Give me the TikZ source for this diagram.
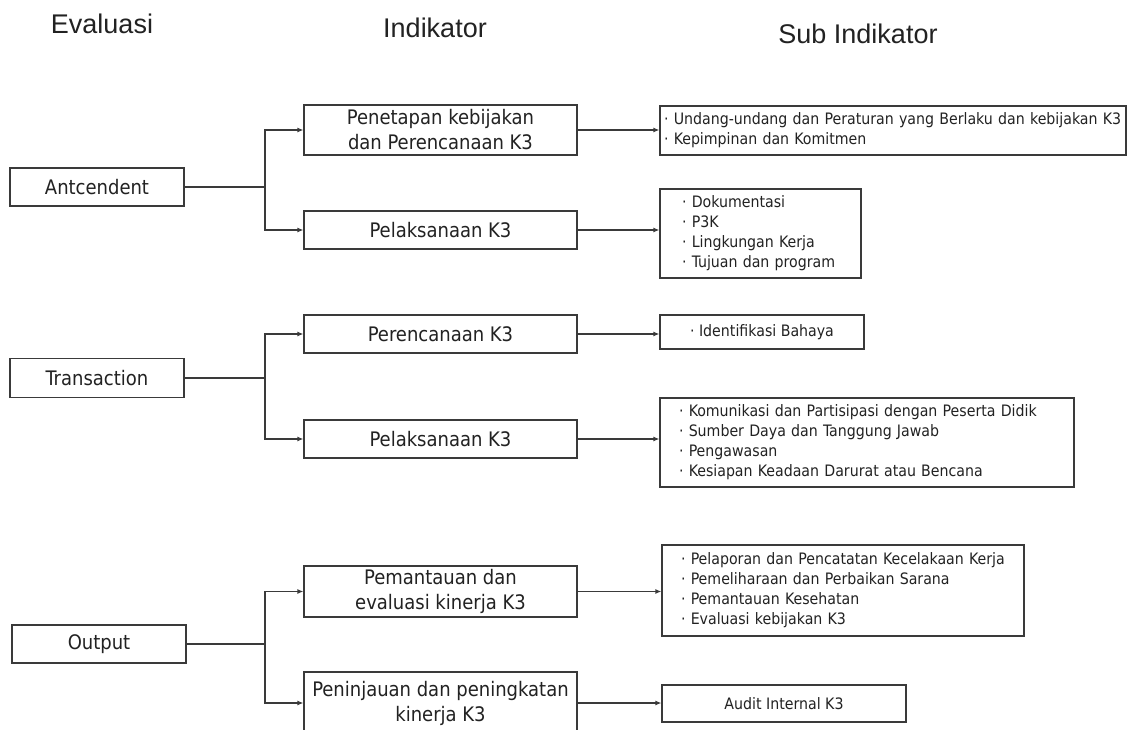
\documentclass[tikz,border=0pt]{standalone}
\usepackage{fontspec}
\setmainfont{DejaVu Sans Condensed}
\newfontfamily\headfont{Liberation Sans}
\usetikzlibrary{arrows.meta}
\definecolor{linec}{HTML}{3A3A3A}
\definecolor{txtc}{HTML}{222222}
\tikzset{
  box/.style={draw=linec, line width=1.2pt, rectangle, inner sep=0pt, text=txtc, align=center},
  indfont/.style={font=\fontsize{20}{25}\selectfont},
  subfont/.style={font=\fontsize{15.75}{20}\selectfont},
  head/.style={text=txtc, font=\headfont\fontsize{27}{30}\selectfont, inner sep=0pt},
  conn/.style={draw=linec, line width=1.2pt},
  arr/.style={conn, -{Latex[length=6pt,width=5pt]}},
  sublist/.style={box, subfont, align=left}
}
\begin{document}
\begin{tikzpicture}[x=1pt,y=-1pt]
\useasboundingbox (0,0) rectangle (1136,729);
\fill[white] (0,0) rectangle (1136,729);
\clip (0,0) rectangle (1136,729);

% headers
\node[head] (h1) at (102,24) {Evaluasi};
\node[head] (h2) at (435,28) {Indikator};
\node[head] (h3) at (858,34) {Sub Indikator};

% evaluasi boxes
\node[box, indfont, minimum width=174pt, minimum height=38pt] (ant) at (97,187) {Antcendent};
\node[box, indfont, minimum width=174pt, minimum height=39pt] (tra) at (97,378) {Transaction};
\node[box, indfont, minimum width=174pt, minimum height=38pt] (out) at (99,644) {Output};

% indikator boxes
\node[box, indfont, minimum width=273pt, minimum height=50pt] (pen) at (440.5,130) {Penetapan kebijakan\\dan Perencanaan K3};
\node[box, indfont, minimum width=273pt, minimum height=38pt] (pel1) at (440.5,230) {Pelaksanaan K3};
\node[box, indfont, minimum width=273pt, minimum height=38pt] (per) at (440.5,334) {Perencanaan K3};
\node[box, indfont, minimum width=273pt, minimum height=38pt] (pel2) at (440.5,439) {Pelaksanaan K3};
\node[box, indfont, minimum width=273pt, minimum height=51pt] (pem) at (440.5,591.5) {Pemantauan dan\\evaluasi kinerja K3};
\node[box, indfont, minimum width=273pt, minimum height=62pt] (pin) at (440.5,703) {Peninjauan dan peningkatan\\kinerja K3};

% sub indikator boxes
\node[sublist, inner xsep=4pt, text width=458pt, minimum height=49pt] (s1) at (893,130.5)
  {· Undang-undang dan Peraturan yang Berlaku dan kebijakan K3\\· Kepimpinan dan Komitmen};
\node[sublist, inner xsep=22pt, text width=157pt, minimum height=89pt] (s2) at (760.5,233.5)
  {· Dokumentasi\\· P3K\\· Lingkungan Kerja\\· Tujuan dan program};
\node[box, subfont, minimum width=204pt, minimum height=34pt] (s3) at (762,332) {· Identifikasi Bahaya};
\node[sublist, inner xsep=19pt, text width=376pt, minimum height=89pt] (s4) at (867,442.5)
  {· Komunikasi dan Partisipasi dengan Peserta Didik\\· Sumber Daya dan Tanggung Jawab\\· Pengawasan\\· Kesiapan Keadaan Darurat atau Bencana};
\node[sublist, inner xsep=19pt, text width=324pt, minimum height=91pt] (s5) at (843,590.5)
  {· Pelaporan dan Pencatatan Kecelakaan Kerja\\· Pemeliharaan dan Perbaikan Sarana\\· Pemantauan Kesehatan\\· Evaluasi kebijakan K3};
\node[box, subfont, minimum width=244pt, minimum height=37pt] (s6) at (784,703.5) {Audit Internal K3};

% junctions
\coordinate (ja) at (265,187);
\coordinate (jt) at (265,378);
\coordinate (jo) at (265,644);

\draw[conn] (ant.east) -- (ja);
\draw[arr] (ja) |- (pen.west);
\draw[arr] (ja) |- (pel1.west);
\draw[conn] (tra.east) -- (jt);
\draw[arr] (jt) |- (per.west);
\draw[arr] (jt) |- (pel2.west);
\draw[conn] (out.east) -- (jo);
\draw[arr] (jo) |- (pem.west);
\draw[arr] (jo) |- (pin.west);

\draw[arr] (pen.east) -- (pen.east -| s1.west);
\draw[arr] (pel1.east) -- (pel1.east -| s2.west);
\draw[arr] (per.east) -- (per.east -| s3.west);
\draw[arr] (pel2.east) -- (pel2.east -| s4.west);
\draw[arr] (pem.east) -- (pem.east -| s5.west);
\draw[arr] (pin.east) -- (pin.east -| s6.west);
\end{tikzpicture}
\end{document}
